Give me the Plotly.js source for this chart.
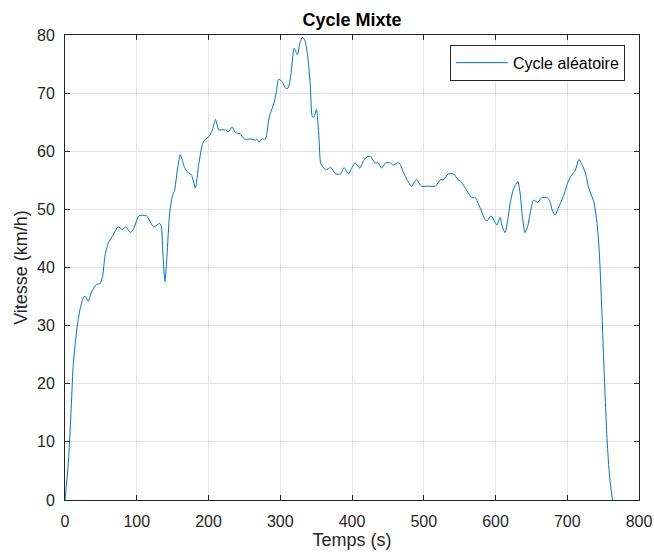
<!DOCTYPE html>
<html>
<head>
<meta charset="utf-8">
<script src="https://cdn.plot.ly/plotly-3.0.1.min.js"></script>
<style>html,body{margin:0;padding:0;background:#fff;}#chart{width:654px;height:559px;}</style>
</head>
<body>
<div id="chart"></div>
<script>
const temps = [0, 4.6, 8.3, 11.6, 14.8, 17.6, 21.8, 26.4, 29, 32.4, 37, 44, 48.6, 52.3, 55.6, 60.2, 67.1, 74, 80.1, 84.7,
  91.2, 95.8, 103.2, 113.4, 123.6, 131.9, 134.3, 136.6, 139.3, 142.1, 145.8, 149.5, 152.8, 156, 160.7, 166.7, 171.5, 176, 181.7, 186.6,
  192, 196.8, 201.4, 206, 209.7, 214.3, 222.2, 228.2, 232.9, 237.5, 244, 250, 259.3, 265.3, 267.1, 270.8, 274.5, 279.2, 284.7, 291.7,
  294.9, 297.7, 302.3, 307.9, 311.1, 314.8, 319.4, 324, 327.3, 331, 334.3, 338, 341.7, 344.9, 347.2, 350.5, 354.2, 356.5, 363.5, 370.4,
  377.3, 384.3, 389, 395, 400.5, 404.5, 410.6, 416.7, 421.3, 425.9, 431.9, 436.6, 441.2, 446.8, 453.7, 457.4, 463, 466.2, 474.5, 482.9,
  489.8, 496.8, 506.9, 516.2, 523.1, 527.8, 533.8, 541.7, 547.7, 551, 560.2, 566.2, 571.8, 578.7, 585.7, 588.9, 593.8, 599, 601.9, 606.5,
  609.7, 613.4, 617.1, 620.4, 625, 631, 634.3, 637.5, 641.2, 644.9, 649, 652.8, 658.8, 664.3, 672.7, 676, 679.2, 682.9, 687.5, 694.4,
  700.4, 706, 710.6, 716.2, 719.9, 725.4, 730.1, 737, 741.5, 744.5, 748, 751.5, 755.5, 759, 763];
const vitesse = [0, 6.3, 14.9, 23.5, 27.5, 30.4, 33.3, 35.0, 34.9, 34.2, 35.8, 37.1, 37.2, 38.4, 41.9, 44.2, 45.6, 47.0, 46.5, 47.0,
  46.0, 46.7, 48.9, 48.9, 47.0, 47.6, 47.0, 41.9, 37.6, 41.9, 49.3, 52.2, 53.3, 56.2, 59.4, 57.2, 56.3, 56.0, 53.7, 57.9,
  61.4, 62.2, 62.6, 63.9, 65.5, 63.7, 63.7, 63.4, 64.2, 63.2, 63.0, 62.1, 62.1, 61.9, 62.1, 61.6, 62.1, 62.1, 65.9, 68.5,
  70.5, 72.4, 72.0, 70.8, 70.9, 73.1, 77.7, 76.6, 78.6, 79.6, 79.1, 76.6, 71.7, 65.9, 65.9, 67.2, 61.9, 57.9, 56.8, 57.2,
  56.1, 56.1, 57.2, 56.1, 57.3, 58.0, 57.1, 58.5, 59.1, 59.1, 58.0, 58.0, 57.1, 58.0, 58.0, 57.6, 58.0, 57.9, 55.6, 54.0,
  55.1, 54.0, 54.0, 54.0, 55.1, 55.1, 56.1, 56.1, 55.1, 54.9, 53.2, 52.1, 52.0, 50.2, 48.2, 48.1, 48.9, 47.9, 47.3, 48.6,
  46.9, 46.0, 48.2, 51.0, 53.5, 54.8, 52.8, 48.7, 46.0, 47.1, 49.8, 51.6, 51.2, 52.0, 52.0, 51.3, 49.8, 49.0, 50.2, 52.2,
  54.5, 55.9, 56.5, 58.6, 57.9, 56.2, 53.6, 51.3, 47.6, 43.0, 33.3, 21.8, 10.3, 4.0, 0];
const xTicks = [0, 100, 200, 300, 400, 500, 600, 700, 800];
const yTicks = [0, 10, 20, 30, 40, 50, 60, 70, 80];
const seriesName = 'Cycle aléatoire';

const dark = '#262626';
const gridC = '#e3e3e3';
const font = 'Liberation Sans, Arial, Helvetica, sans-serif';

const trace = {
  x: temps, y: vitesse, type: 'scatter', mode: 'lines', name: seriesName,
  line: {color: '#0072BD', width: 1, shape: 'spline', smoothing: 0.6}
};

const axisCommon = {
  showline: true, linecolor: dark, linewidth: 1, mirror: 'ticks',
  ticks: 'inside', ticklen: 5, tickcolor: dark, tickwidth: 1,
  showgrid: true, gridcolor: gridC, gridwidth: 1, zeroline: false,
  tickfont: {family: font, size: 16, color: dark}
};

const layout = {
  width: 654, height: 559,
  margin: {l: 65, r: 15, t: 35, b: 59},
  paper_bgcolor: '#fff', plot_bgcolor: '#fff',
  font: {family: font, color: dark},
  title: {text: '<b>Cycle Mixte</b>', font: {family: font, size: 18, color: '#000'}, x: 0.5, xref: 'paper', xanchor: 'center', y: 1, yref: 'paper', yanchor: 'bottom', pad: {b: 9}},
  xaxis: Object.assign({}, axisCommon, {
    range: [0, 800], tickvals: xTicks, ticktext: xTicks.map(String),
    ticklabelstandoff: 7,
    title: {text: 'Temps (s)', font: {family: font, size: 18, color: dark}, standoff: 4}
  }),
  yaxis: Object.assign({}, axisCommon, {
    range: [0, 80], tickvals: yTicks, ticktext: yTicks.map(String),
    ticklabelstandoff: 6,
    title: {text: 'Vitesse (km/h)', font: {family: font, size: 18, color: dark}, standoff: 4}
  }),
  showlegend: true,
  legend: {
    x: 0.9756, xanchor: 'right', y: 0.979, yanchor: 'top',
    bgcolor: '#fff', bordercolor: dark, borderwidth: 1,
    font: {family: font, size: 16, color: '#000'},
    itemwidth: 52
  }
};

Plotly.newPlot('chart', [trace], layout, {displayModeBar: false, staticPlot: true});
</script>
</body>
</html>
